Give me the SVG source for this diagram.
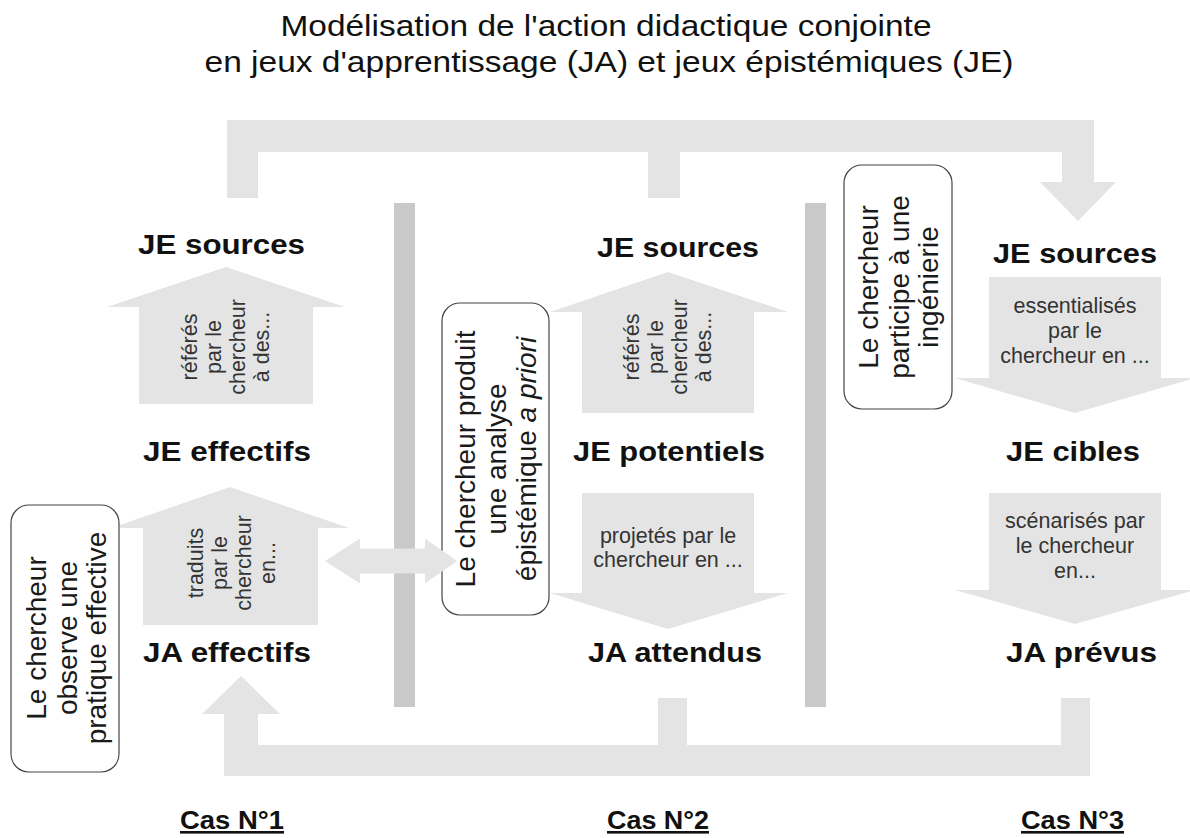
<svg xmlns="http://www.w3.org/2000/svg" width="1190" height="838" viewBox="0 0 1190 838">
<style>
text { font-family: "Liberation Sans", Arial, sans-serif; }
.title { font-size: 30px; fill: #111; text-anchor: middle; }
.lbl { font-size: 28px; font-weight: bold; fill: #111; }
.rot { font-size: 28px; fill: #1a1a1a; text-anchor: middle; }
.arr { font-size: 21.5px; fill: #333; text-anchor: middle; }
.cas { font-size: 26px; font-weight: bold; fill: #111; text-decoration: underline; }
.flow { fill: #e4e4e4; }
.sep { fill: #c9c9c9; }
.box { fill: #fff; stroke: #444; stroke-width: 1.2; }
</style>
<rect width="1190" height="838" fill="#fff"/>

<g id="title">
<text class="title" x="606" y="36" textLength="651" lengthAdjust="spacingAndGlyphs">Modélisation de l'action didactique conjointe</text>
<text class="title" x="609" y="72" textLength="809" lengthAdjust="spacingAndGlyphs">en jeux d'apprentissage (JA) et jeux épistémiques (JE)</text>
</g>

<g id="separators">
<rect class="sep" x="394" y="203" width="21" height="504"/>
<rect class="sep" x="805" y="203" width="21" height="504"/>
</g>

<g id="box-cas1">
<rect class="box" x="11" y="505" width="108" height="267" rx="18"/>
<text class="rot" transform="translate(46,638) rotate(-90)">Le chercheur</text>
<text class="rot" transform="translate(77,638) rotate(-90)">observe une</text>
<text class="rot" transform="translate(106,638) rotate(-90)">pratique effective</text>
</g>
<g id="box-cas2">
<rect class="box" x="442" y="303" width="107" height="312" rx="18"/>
<text class="rot" transform="translate(475,459) rotate(-90)">Le chercheur produit</text>
<text class="rot" transform="translate(506,459) rotate(-90)">une analyse</text>
<text class="rot" transform="translate(536,459) rotate(-90)">épistémique <tspan font-style="italic">a priori</tspan></text>
</g>
<g id="box-cas3">
<rect class="box" x="844" y="165" width="108" height="244" rx="18"/>
<text class="rot" transform="translate(878,287) rotate(-90)">Le chercheur</text>
<text class="rot" transform="translate(909,287) rotate(-90)">participe à une</text>
<text class="rot" transform="translate(938,287) rotate(-90)">ingénierie</text>
</g>

<g id="je-sources-1"><text class="lbl" x="138" y="254" textLength="167" lengthAdjust="spacingAndGlyphs">JE sources</text></g>
<g id="je-effectifs"><text class="lbl" x="143" y="461" textLength="168" lengthAdjust="spacingAndGlyphs">JE effectifs</text></g>
<g id="ja-effectifs"><text class="lbl" x="143" y="662" textLength="168" lengthAdjust="spacingAndGlyphs">JA effectifs</text></g>
<g id="je-sources-2"><text class="lbl" x="597" y="257" textLength="162" lengthAdjust="spacingAndGlyphs">JE sources</text></g>
<g id="je-potentiels"><text class="lbl" x="573" y="461" textLength="192" lengthAdjust="spacingAndGlyphs">JE potentiels</text></g>
<g id="ja-attendus"><text class="lbl" x="588" y="662" textLength="174" lengthAdjust="spacingAndGlyphs">JA attendus</text></g>
<g id="je-sources-3"><text class="lbl" x="993" y="263" textLength="164" lengthAdjust="spacingAndGlyphs">JE sources</text></g>
<g id="je-cibles"><text class="lbl" x="1006" y="461" textLength="134" lengthAdjust="spacingAndGlyphs">JE cibles</text></g>
<g id="ja-prevus"><text class="lbl" x="1006" y="662" textLength="151" lengthAdjust="spacingAndGlyphs">JA prévus</text></g>

<g id="cas-1"><text class="cas" x="180" y="829" textLength="104" lengthAdjust="spacingAndGlyphs">Cas N°1</text></g>
<g id="cas-2"><text class="cas" x="607" y="829" textLength="102" lengthAdjust="spacingAndGlyphs">Cas N°2</text></g>
<g id="cas-3"><text class="cas" x="1021" y="829" textLength="103" lengthAdjust="spacingAndGlyphs">Cas N°3</text></g>

<g id="connectors">
<polygon class="flow" points="227,198 227,120 1094,120 1094,182 1116,182 1078,221 1040,182 1062,182 1062,152 680,152 680,198 648,198 648,152 258,152 258,198"/>
<polygon class="flow" points="224,776 224,714 202,714 241,676 280,714 258,714 258,745 658,745 658,698 687,698 687,745 1061,745 1061,698 1090,698 1090,776"/>
<polygon class="flow" points="325,561 360,538.5 360,548.5 425,548.5 425,538.5 457,561 425,583.5 425,573.5 360,573.5 360,583.5"/>

<polygon class="flow" points="139,404 139,307 107,307 226,267 345,307 313,307 313,404"/>
<g class="arr">
<text transform="translate(197,347) rotate(-90)">référés</text>
<text transform="translate(221,347) rotate(-90)">par le</text>
<text transform="translate(245,347) rotate(-90)">chercheur</text>
<text transform="translate(269,347) rotate(-90)">à des...</text>
</g>

<polygon class="flow" points="143,625 143,528 120,528 120,525 230,487 349,528 318,528 318,625"/>
<g class="arr">
<text transform="translate(203,563) rotate(-90)">traduits</text>
<text transform="translate(227,563) rotate(-90)">par le</text>
<text transform="translate(251,563) rotate(-90)">chercheur</text>
<text transform="translate(275,563) rotate(-90)">en...</text>
</g>

<polygon class="flow" points="582,413 582,312 550,312 668,272 788,312 754,312 754,413"/>
<g class="arr">
<text transform="translate(639,347) rotate(-90)">référés</text>
<text transform="translate(663,347) rotate(-90)">par le</text>
<text transform="translate(687,347) rotate(-90)">chercheur</text>
<text transform="translate(711,347) rotate(-90)">à des...</text>
</g>

<polygon class="flow" points="582,493 754,493 754,593 788,593 668,629 550,593 582,593"/>
<g class="arr">
<text x="668" y="543">projetés par le</text>
<text x="668" y="567">chercheur en ...</text>
</g>

<polygon class="flow" points="989,277 1161,277 1161,378 1195,378 1075,413 955,378 989,378"/>
<g class="arr">
<text x="1075" y="313">essentialisés</text>
<text x="1075" y="338">par le</text>
<text x="1075" y="363">chercheur en ...</text>
</g>

<polygon class="flow" points="989,493 1161,493 1161,590 1195,590 1075,624 955,590 989,590"/>
<g class="arr">
<text x="1075" y="528">scénarisés par</text>
<text x="1075" y="553">le chercheur</text>
<text x="1075" y="578">en...</text>
</g>
</g>
</svg>
